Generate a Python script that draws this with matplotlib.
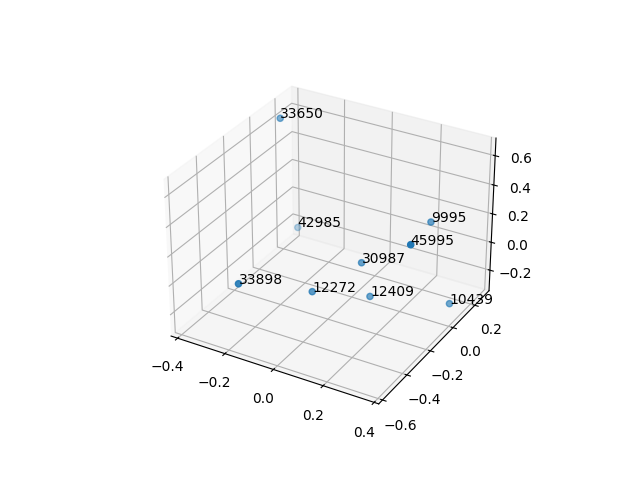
import matplotlib
matplotlib.use("Agg")
import matplotlib.pyplot as plt

labels = ["33650", "42985", "9995", "45995", "30987", "33898", "12272", "12409", "10439"]
xs = [-0.368, -0.374, 0.251, 0.364, 0.077, -0.170, -0.025, 0.122, 0.361]
ys = [0.129, 0.273, 0.150, -0.274, -0.076, -0.569, -0.277, -0.095, 0.092]
zs = [0.651, -0.231, 0.197, 0.409, -0.005, 0.103, -0.105, -0.206, -0.281]

fig = plt.figure(figsize=(6.4, 4.8), dpi=100)
ax = fig.add_subplot(projection="3d")
ax.scatter(xs, ys, zs)
for x, y, z, s in zip(xs, ys, zs, labels):
    ax.text(x, y, z, s)
fig.savefig("out.png")
